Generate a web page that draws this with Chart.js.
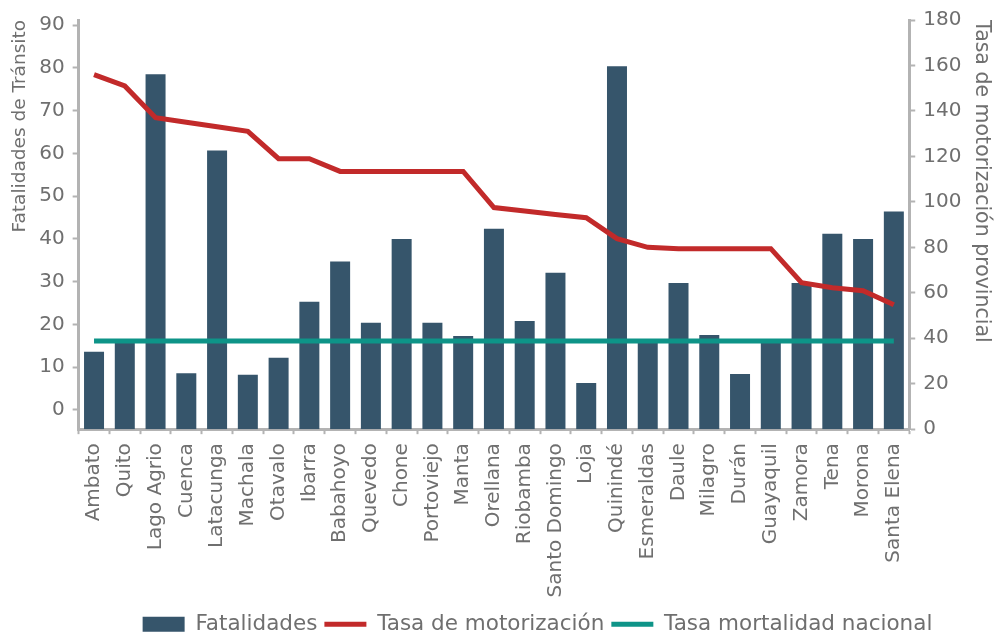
<!DOCTYPE html>
<html>
<head>
    <meta charset="UTF-8">
    <title>Fatalidades</title>
    <script src="https://cdn.jsdelivr.net/npm/chart.js"></script>
    <style>
        html, body {
            margin: 0;
            padding: 0;
            background: #fff;
        }

        .chart-box {
            width: 1002px;
            height: 633px;
        }
    </style>
</head>
<body>
<div class="chart-box">
    <canvas id="myChart"></canvas>
</div>
<script>
    const ciudades = ['Ambato', 'Quito', 'Lago Agrio', 'Cuenca', 'Latacunga', 'Machala', 'Otavalo', 'Ibarra',
        'Babahoyo', 'Quevedo', 'Chone', 'Portoviejo', 'Manta', 'Orellana', 'Riobamba', 'Santo Domingo', 'Loja',
        'Quinindé', 'Esmeraldas', 'Daule', 'Milagro', 'Durán', 'Guayaquil', 'Zamora', 'Tena', 'Morona', 'Santa Elena'];

    const fatalidades = [13.6, 15.9, 78.5, 8.6, 60.7, 8.2, 12.2, 25.3, 34.7, 20.4, 40.0, 20.4, 17.3, 42.4, 20.8,
        32.1, 6.3, 80.4, 15.9, 29.7, 17.5, 8.4, 15.9, 29.7, 41.2, 40.0, 46.4];

    const tasaMotorizacion = [156, 151, 137, 135, 133, 131, 119, 119, 113.4, 113.4, 113.4, 113.4, 113.4, 97.5, 96,
        94.4, 93, 83.8, 80, 79.4, 79.4, 79.4, 79.4, 64.4, 62.2, 60.9, 54.7];

    const tasaNacional = [16.1, 16.1, 16.1, 16.1, 16.1, 16.1, 16.1, 16.1, 16.1, 16.1, 16.1, 16.1, 16.1, 16.1, 16.1,
        16.1, 16.1, 16.1, 16.1, 16.1, 16.1, 16.1, 16.1, 16.1, 16.1, 16.1, 16.1];

    const ticksIzq = [0, 10, 20, 30, 40, 50, 60, 70, 80, 90];

    const gris = '#b3b3b3';
    const texto = '#6f6f6f';
    const fuente = 'DejaVu Sans';

    // la leyenda del original no está centrada en el lienzo
    const moverLeyenda = {
        id: 'moverLeyenda',
        afterLayout(chart) {
            chart.legend.left += 33;
            chart.legend.right += 33;
        }
    };

    let ctx = document.getElementById('myChart').getContext('2d');
    new Chart(ctx, {
        data: {
            labels: ciudades,
            datasets: [
                {
                    type: 'bar',
                    label: 'Fatalidades',
                    data: fatalidades,
                    yAxisID: 'y',
                    base: -4.5,
                    backgroundColor: '#36556b',
                    borderWidth: 0,
                    barPercentage: 0.65,
                    categoryPercentage: 1,
                    pointStyle: 'rect',
                    order: 3
                },
                {
                    type: 'line',
                    label: 'Tasa de motorización',
                    data: tasaMotorizacion,
                    yAxisID: 'y1',
                    borderColor: '#c22a2a',
                    backgroundColor: '#c22a2a',
                    borderWidth: 5,
                    pointRadius: 0,
                    pointStyle: 'line',
                    tension: 0,
                    order: 1
                },
                {
                    type: 'line',
                    label: 'Tasa mortalidad nacional',
                    data: tasaNacional,
                    yAxisID: 'y',
                    borderColor: '#0e9488',
                    backgroundColor: '#0e9488',
                    borderWidth: 5,
                    pointRadius: 0,
                    pointStyle: 'line',
                    order: 2
                }
            ]
        },
        plugins: [moverLeyenda],
        options: {
            responsive: true,
            maintainAspectRatio: false,
            animation: false,
            layout: {
                padding: {left: 9, right: 2, top: 10, bottom: -12}
            },
            plugins: {
                tooltip: {enabled: false},
                legend: {
                    position: 'bottom',
                    labels: {
                        usePointStyle: true,
                        pointStyleWidth: 42,
                        boxHeight: 15,
                        padding: 7,
                        color: texto,
                        font: {family: fuente, size: 21.5},
                        sort: (a, b) => a.datasetIndex - b.datasetIndex
                    }
                }
            },
            scales: {
                x: {
                    offset: true,
                    grid: {
                        display: true,
                        offset: true,
                        drawOnChartArea: false,
                        drawTicks: true,
                        tickLength: 5,
                        tickWidth: 2,
                        tickColor: gris
                    },
                    border: {color: gris, width: 3},
                    ticks: {
                        autoSkip: false,
                        minRotation: 90,
                        maxRotation: 90,
                        padding: 9,
                        color: texto,
                        font: {family: fuente, size: 20}
                    }
                },
                y: {
                    position: 'left',
                    min: -4.5,
                    max: 91.2,
                    afterBuildTicks: (axis) => {
                        axis.ticks = ticksIzq.map(v => ({value: v}));
                    },
                    grid: {
                        drawOnChartArea: false,
                        tickLength: 6,
                        tickWidth: 2,
                        tickColor: gris
                    },
                    border: {color: gris, width: 3},
                    ticks: {
                        padding: 8,
                        color: texto,
                        font: {family: fuente, size: 20}
                    },
                    title: {
                        display: true,
                        text: 'Fatalidades de Tránsito',
                        align: 'end',
                        color: texto,
                        font: {family: fuente, size: 18.5},
                        padding: {top: 0, bottom: 0}
                    }
                },
                y1: {
                    position: 'right',
                    min: 0,
                    max: 180,
                    grid: {
                        drawOnChartArea: false,
                        tickLength: 6,
                        tickWidth: 2,
                        tickColor: gris
                    },
                    border: {color: gris, width: 3},
                    ticks: {
                        stepSize: 20,
                        padding: 8,
                        color: texto,
                        font: {family: fuente, size: 20}
                    },
                    title: {
                        display: true,
                        text: 'Tasa de motorización provincial',
                        align: 'end',
                        color: texto,
                        font: {family: fuente, size: 20.5},
                        padding: {top: 6, bottom: 0}
                    }
                }
            }
        }
    });
</script>
</body>
</html>
